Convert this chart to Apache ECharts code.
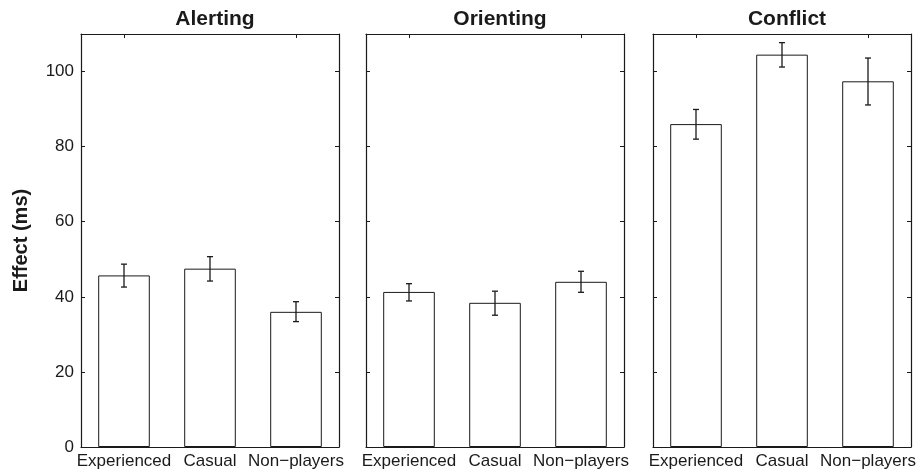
<!DOCTYPE html>
<html><head><meta charset="utf-8">
<script src="https://cdn.jsdelivr.net/npm/echarts@6/dist/echarts.min.js"></script>
<style>html,body{margin:0;padding:0;background:#fff}#c{width:923px;height:473px}</style>
</head><body><div id="c"></div>
<script>
const categories = ['Experienced', 'Casual', 'Non\u2212players'];
const panelTitles = ['Alerting', 'Orienting', 'Conflict'];
const alertingMean = [45.7, 47.5, 36.0];
const alertingLow = [42.6, 44.2, 33.4];
const alertingHigh = [48.7, 50.7, 38.7];
const orientingMean = [41.3, 38.4, 44.0];
const orientingLow = [38.9, 35.1, 41.2];
const orientingHigh = [43.5, 41.5, 46.8];
const conflictMean = [86.0, 104.5, 97.4];
const conflictLow = [82.0, 101.2, 91.1];
const conflictHigh = [89.9, 107.7, 103.6];
const yTicks = [0, 20, 40, 60, 80, 100];

const means = [alertingMean, orientingMean, conflictMean];
const lows = [alertingLow, orientingLow, conflictLow];
const highs = [alertingHigh, orientingHigh, conflictHigh];

const ink = '#1a1a1a';
const font = 'Liberation Sans, Arial, Helvetica, sans-serif';
const lefts = [81, 366, 653];
const width = 258;

const grid = [], xAxis = [], yAxis = [], series = [], title = [];
for (let i = 0; i < 3; i++) {
  grid.push({left: lefts[i], top: 34, width: width, height: 413, containLabel: false});
  title.push({text: panelTitles[i], left: lefts[i] + width / 2, top: 4, textAlign: 'center',
    textStyle: {fontFamily: font, fontSize: 21, fontWeight: 'bold', color: ink}});
  // bottom x axis
  xAxis.push({type: 'category', gridIndex: i, data: categories, position: 'bottom',
    axisLine: {onZero: false, lineStyle: {color: ink, width: 1.2}}, axisTick: {show: false},
    axisLabel: {interval: 0, color: ink, fontFamily: font, fontSize: 17, margin: 6}});
  // top x axis (ticks only)
  xAxis.push({type: 'category', gridIndex: i, data: categories, position: 'top',
    axisLine: {onZero: false, lineStyle: {color: ink, width: 1.2}},
    axisTick: {show: true, inside: true, alignWithLabel: true, length: 4, lineStyle: {color: ink}},
    axisLabel: {show: false}});
  // left y axis
  yAxis.push({type: 'value', gridIndex: i, min: 0, max: 110, interval: 20, position: 'left',
    name: i === 0 ? 'Effect (ms)' : '', nameLocation: 'middle', nameGap: 50,
    nameTextStyle: {fontFamily: font, fontSize: 20, fontWeight: 'bold', color: ink},
    splitLine: {show: false},
    axisLine: {show: true, onZero: false, lineStyle: {color: ink, width: 1.2}},
    axisTick: {show: true, inside: true, length: 4, lineStyle: {color: ink}},
    axisLabel: {show: i === 0, color: ink, fontFamily: font, fontSize: 17, margin: 7,
      showMaxLabel: false,
      formatter: v => yTicks.includes(v) ? String(v) : ''}});
  // right y axis (ticks only)
  yAxis.push({type: 'value', gridIndex: i, min: 0, max: 110, interval: 20, position: 'right',
    splitLine: {show: false},
    axisLine: {show: true, onZero: false, lineStyle: {color: ink, width: 1.2}},
    axisTick: {show: true, inside: true, length: 4, lineStyle: {color: ink}},
    axisLabel: {show: false}});
  series.push({type: 'bar', xAxisIndex: 2 * i, yAxisIndex: 2 * i, data: means[i], barWidth: '60%',
    itemStyle: {color: '#fff', borderColor: ink, borderWidth: 1}, silent: true});
  const errData = categories.map((c, k) => [k, lows[i][k], highs[i][k]]);
  series.push({type: 'custom', xAxisIndex: 2 * i, yAxisIndex: 2 * i, data: errData, z: 10, silent: true,
    renderItem: function (params, api) {
      const x = api.value(0);
      const lo = api.coord([x, api.value(1)]);
      const hi = api.coord([x, api.value(2)]);
      const cw = 3;
      const st = {stroke: ink, lineWidth: 1.3};
      return {type: 'group', children: [
        {type: 'line', shape: {x1: lo[0], y1: lo[1], x2: hi[0], y2: hi[1]}, style: st},
        {type: 'line', shape: {x1: lo[0] - cw, y1: lo[1], x2: lo[0] + cw, y2: lo[1]}, style: st},
        {type: 'line', shape: {x1: hi[0] - cw, y1: hi[1], x2: hi[0] + cw, y2: hi[1]}, style: st}
      ]};
    }});
}

const chart = echarts.init(document.getElementById('c'), null, {renderer: 'canvas'});
chart.setOption({animation: false, backgroundColor: '#fff', title, grid, xAxis, yAxis, series});
</script></body></html>
